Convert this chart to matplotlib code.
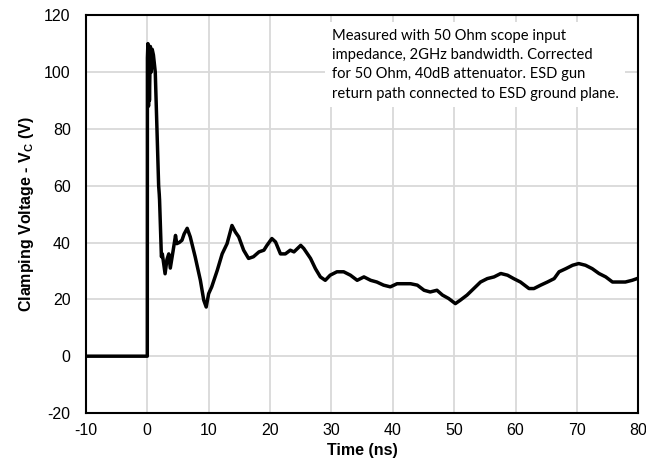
import matplotlib.pyplot as plt

plt.rcParams['font.family'] = ['Liberation Sans', 'DejaVu Sans']
plt.rcParams['mathtext.fontset'] = 'custom'
plt.rcParams['mathtext.bf'] = 'Liberation Sans:bold'
plt.rcParams['mathtext.rm'] = 'Liberation Sans'
plt.rcParams['axes.unicode_minus'] = False

# waveform (time in ns, voltage in V)
time_ns = [-10, 0, 0.02, 0.1, 0.2, 0.25, 0.35, 0.5, 0.65, 0.8, 1.0, 1.3, 1.85, 1.95, 2.0,
           2.3, 2.45, 2.9, 3.2, 3.5, 3.75, 4.2, 4.6, 4.8, 5.2, 5.65, 6.0, 6.5, 7.0, 7.8,
           8.65, 9.2, 9.6, 10, 10.5, 11.4, 12.2, 13, 13.8, 14.35, 14.9, 15.7, 16.5, 17.3,
           18.2, 19, 19.5, 20.3, 20.9, 21.7, 22.5, 23.3, 23.9, 25, 25.5, 26.6, 27.4, 28.2,
           29.0, 29.8, 30.9, 32, 33.1, 34.2, 35.3, 36.4, 37.4, 38.5, 39.6, 40.7, 41.8,
           42.9, 44, 45.1, 46.1, 47.2, 48.1, 49.1, 50.2, 51.0, 52.1, 53.2, 54.3, 55.4,
           56.5, 57.6, 58.7, 59.7, 60.8, 62.2, 63.0, 64.1, 65.2, 66.3, 67.1, 68.2, 69.3,
           70.3, 71.4, 72.5, 73.6, 74.7, 75.8, 76.9, 77.9, 79.0, 79.8, 80]
voltage = [0, 0, 105, 110, 88, 108, 90, 109, 100, 108, 106, 100, 60, 57, 55,
           35, 36, 29, 34, 36, 31, 37, 42.5, 39.6, 40, 40.8, 43, 45, 42, 35,
           26.7, 19.7, 17.3, 22, 24.4, 30.2, 36, 39.6, 46, 43.7, 42, 37.3, 34.4, 35,
           36.7, 37.3, 39, 41.4, 40.2, 36, 36, 37.3, 36.7, 39, 37.9, 34.4, 30.8, 27.9,
           26.7, 28.5, 29.7, 29.7, 28.5, 26.7, 27.9, 26.7, 26.1, 25, 24.4, 25.5, 25.5,
           25.5, 25, 23.2, 22.6, 23.2, 21.5, 20.3, 18.5, 19.7, 21.5, 23.8, 26.1, 27.3,
           27.9, 29.1, 28.5, 27.3, 26.1, 23.8, 23.8, 25, 26.1, 27.3, 29.7, 30.8, 32,
           32.6, 32, 30.8, 29.1, 27.9, 26.1, 26.1, 26.1, 26.7, 27.3, 27.5]

note = ("Measured with 50 Ohm scope input\n"
        "impedance, 2GHz bandwidth. Corrected\n"
        "for 50 Ohm, 40dB attenuator. ESD gun\n"
        "return path connected to ESD ground plane.")

fig = plt.figure(figsize=(6.46, 4.75), dpi=100)
ax = fig.add_axes([0.133, 0.1305, 0.855, 0.8375])

ax.plot(time_ns, voltage, color="black", linewidth=2.5, solid_joinstyle="round")

ax.set_xlim(-10, 80)
ax.set_ylim(-20, 120)
ax.set_xticks(range(-10, 81, 10))
ax.set_yticks(range(-20, 121, 20))
ax.grid(True, color="#d9d9d9", linewidth=1.3)
ax.set_axisbelow(True)
ax.tick_params(axis="y", length=0, labelsize=11.5, pad=11)
ax.tick_params(axis="x", length=0, labelsize=11.5, pad=7)
for s in ax.spines.values():
    s.set_linewidth(1.5)
    s.set_color("black")

ax.set_xlabel("Time (ns)", fontsize=11.5, fontweight="bold", labelpad=4)
ax.set_ylabel(r"Clamping Voltage - V$_\mathbf{C}$ (V)", fontsize=11.5, fontweight="bold", labelpad=6)

ax.text(0.445, 0.966, note, transform=ax.transAxes, ha="left", va="top",
        fontsize=10.6, family=["Lato", "DejaVu Sans"], linespacing=1.48,
        bbox=dict(facecolor="white", edgecolor="none", pad=5))

fig.savefig("out.png", dpi=100)
